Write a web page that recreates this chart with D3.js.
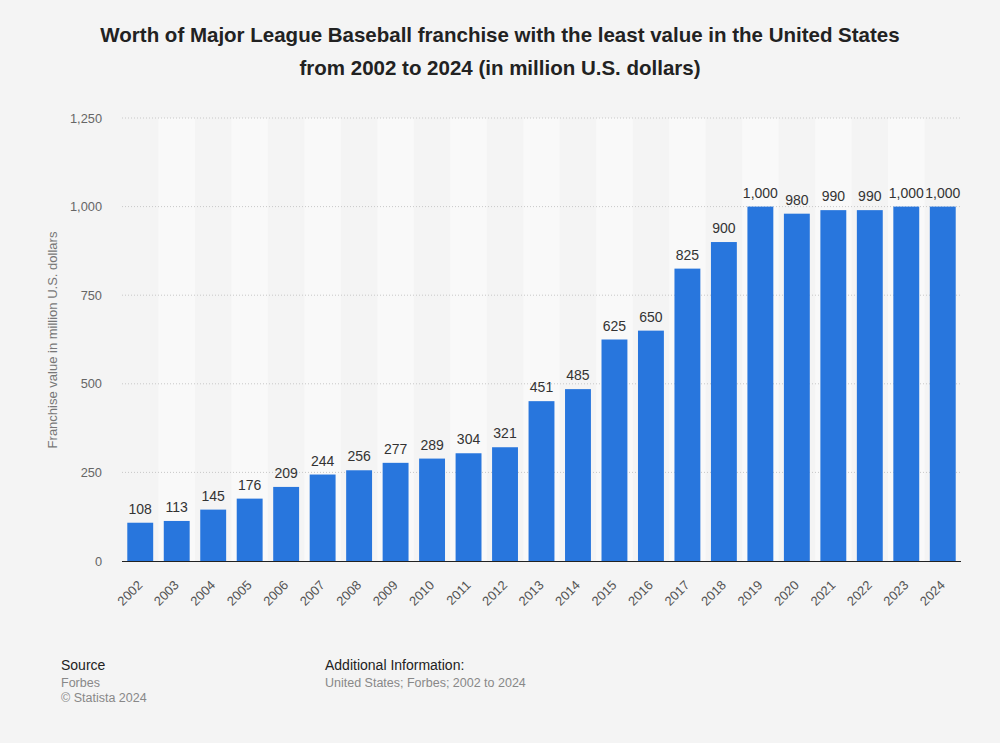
<!DOCTYPE html>
<html><head><meta charset="utf-8">
<script src="https://cdn.jsdelivr.net/npm/d3@7"></script>
<style>body{margin:0;background:#f4f4f4;font-family:"Liberation Sans",Arial,sans-serif;}</style>
</head><body>
<svg id="c" width="1000" height="743"></svg>
<script>
const years = ["2002","2003","2004","2005","2006","2007","2008","2009","2010","2011","2012","2013","2014","2015","2016","2017","2018","2019","2020","2021","2022","2023","2024"];
const values = [108,113,145,176,209,244,256,277,289,304,321,451,485,625,650,825,900,1000,980,990,990,1000,1000];
const yTicks = [0,250,500,750,1000,1250];

const svg = d3.select("#c");
svg.append("rect").attr("width",1000).attr("height",743).attr("fill","#f4f4f4");
const m = {l:122, r:961, t:118, b:561};
const x = d3.scaleBand().domain(years).range([m.l,m.r]).paddingInner(0.29).paddingOuter(0.145);
const xb = d3.scaleBand().domain(years).range([m.l,m.r]).padding(0);
const y = d3.scaleLinear().domain([0,1250]).range([m.b,m.t]);

// stripes
svg.append("g").selectAll("rect").data(years.filter((d,i)=>i%2===1)).join("rect")
  .attr("x",d=>xb(d)).attr("width",xb.bandwidth()).attr("y",m.t).attr("height",m.b-m.t).attr("fill","#f9f9f9");

// grid
const yAxis = d3.axisLeft(y).tickValues(yTicks).tickSize(0).tickPadding(20).tickFormat(d3.format(","));
const gy = svg.append("g").attr("transform",`translate(${m.l},0)`).call(yAxis);
gy.select(".domain").remove();
gy.selectAll("text").attr("fill","#666").style("font-size","12.8px").style("font-family","Liberation Sans, Arial, sans-serif");
svg.append("g").selectAll("line").data(yTicks.filter(d=>d>0)).join("line")
  .attr("x1",m.l).attr("x2",m.r).attr("y1",d=>y(d)).attr("y2",d=>y(d))
  .attr("stroke","#c8c8c8").attr("stroke-dasharray","1,2").attr("stroke-width",1);

// bars
svg.append("g").selectAll("rect").data(years).join("rect")
  .attr("x",d=>x(d)).attr("width",x.bandwidth())
  .attr("y",(d,i)=>y(values[i])).attr("height",(d,i)=>y(0)-y(values[i]))
  .attr("fill","#2876dd");

// value labels
svg.append("g").selectAll("text").data(years).join("text")
  .attr("x",d=>x(d)+x.bandwidth()/2).attr("y",(d,i)=>y(values[i])-9)
  .attr("text-anchor","middle").attr("fill","#333").style("font-size","14px")
  .text((d,i)=>d3.format(",")(values[i]));

// baseline
svg.append("line").attr("x1",m.l).attr("x2",m.r).attr("y1",m.b+0.5).attr("y2",m.b+0.5).attr("stroke","#222").attr("stroke-width",1);

// x axis
const xAxis = d3.axisBottom(x).tickSize(0).tickPadding(0);
const gx = svg.append("g").attr("transform",`translate(0,${m.b})`).call(xAxis);
gx.select(".domain").remove();
gx.selectAll("text").attr("fill","#555").style("font-size","13px").style("font-family","Liberation Sans, Arial, sans-serif")
  .attr("text-anchor","end").attr("dy","0").attr("transform","translate(3,25) rotate(-45)");

// y title
svg.append("text").attr("transform",`translate(57,340) rotate(-90)`).attr("text-anchor","middle")
  .attr("fill","#777").style("font-size","13px").text("Franchise value in million U.S. dollars");

// title
const title = svg.append("text").attr("text-anchor","middle").attr("fill","#222").style("font-size","20.5px").style("font-weight","bold");
title.append("tspan").attr("x",500).attr("y",42).text("Worth of Major League Baseball franchise with the least value in the United States");
title.append("tspan").attr("x",500).attr("y",75).text("from 2002 to 2024 (in million U.S. dollars)");

// footer
const f = svg.append("g").style("font-size","14px");
f.append("text").attr("x",61).attr("y",670).attr("fill","#222").text("Source");
f.append("text").attr("x",61).attr("y",687).attr("fill","#888").style("font-size","12.5px").text("Forbes");
f.append("text").attr("x",61).attr("y",702).attr("fill","#888").style("font-size","12.5px").text("© Statista 2024");
f.append("text").attr("x",325).attr("y",670).attr("fill","#222").text("Additional Information:");
f.append("text").attr("x",325).attr("y",687).attr("fill","#888").style("font-size","12.5px").text("United States; Forbes; 2002 to 2024");
</script>
</body></html>
